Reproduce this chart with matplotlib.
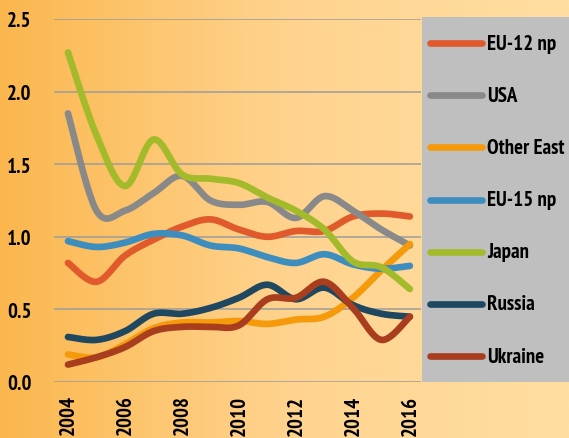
import numpy as np
import matplotlib
matplotlib.use("Agg")
import matplotlib.pyplot as plt
from matplotlib.colors import LinearSegmentedColormap
from matplotlib.patches import Rectangle
from matplotlib.lines import Line2D

plt.rcParams['font.family'] = ['PT Sans Narrow', 'Roboto Condensed', 'DejaVu Sans']

# data
years = list(range(2004, 2017))
series_names = ["EU-12 np", "USA", "Other East", "EU-15 np", "Japan", "Russia", "Ukraine"]
eu12 = [0.82, 0.69, 0.87, 0.98, 1.07, 1.12, 1.05, 1.00, 1.04, 1.04, 1.14, 1.16, 1.14]
usa = [1.85, 1.18, 1.18, 1.30, 1.42, 1.25, 1.22, 1.24, 1.13, 1.28, 1.18, 1.05, 0.94]
other_east = [0.19, 0.17, 0.26, 0.37, 0.41, 0.41, 0.42, 0.40, 0.43, 0.45, 0.58, 0.77, 0.95]
eu15 = [0.97, 0.93, 0.96, 1.02, 1.01, 0.94, 0.92, 0.86, 0.82, 0.88, 0.81, 0.78, 0.80]
japan = [2.27, 1.70, 1.35, 1.67, 1.43, 1.40, 1.37, 1.27, 1.18, 1.05, 0.83, 0.79, 0.64]
russia = [0.31, 0.29, 0.35, 0.47, 0.47, 0.51, 0.58, 0.67, 0.57, 0.65, 0.53, 0.47, 0.45]
ukraine = [0.12, 0.17, 0.24, 0.35, 0.38, 0.38, 0.39, 0.57, 0.58, 0.69, 0.51, 0.29, 0.45]
all_values = [eu12, usa, other_east, eu15, japan, russia, ukraine]
colors = ["#E05A2B", "#898989", "#F59A0A", "#3E8DBF", "#A3BB2B", "#1F4760", "#A83E1E"]


def smooth(x, y, n=24):
    # Excel-style smoothed line: cubic bezier through the points
    x = np.asarray(x, float)
    y = np.asarray(y, float)
    px = np.concatenate([[x[0]], x, [x[-1]]])
    py = np.concatenate([[y[0]], y, [y[-1]]])
    xs, ys = [], []
    t = np.linspace(0, 1, n)
    for i in range(1, len(x)):
        p0 = np.array([px[i], py[i]])
        p3 = np.array([px[i + 1], py[i + 1]])
        c1 = p0 + (np.array([px[i + 1], py[i + 1]]) - np.array([px[i - 1], py[i - 1]])) / 6
        c2 = p3 - (np.array([px[i + 2], py[i + 2]]) - np.array([px[i], py[i]])) / 6
        b = ((1 - t) ** 3)[:, None] * p0 + (3 * (1 - t) ** 2 * t)[:, None] * c1 \
            + (3 * (1 - t) * t ** 2)[:, None] * c2 + (t ** 3)[:, None] * p3
        xs.extend(b[:, 0])
        ys.extend(b[:, 1])
    return xs, ys


fig = plt.figure(figsize=(5.69, 4.39), dpi=100)

# background gradient
bg = fig.add_axes([0, 0, 1, 1], zorder=-10)
cmap = LinearSegmentedColormap.from_list("bg", ["#FBB74E", "#FFD38E", "#FFDEA2"])
bg.imshow(np.linspace(0, 1, 256)[None, :], aspect="auto", cmap=cmap, extent=[0, 1, 0, 1])
bg.axis("off")

ax = fig.add_axes([54 / 569, 56 / 439, 367 / 569, 363 / 439])
ax.set_facecolor("none")
ax.set_xlim(2003.51, 2016.39)
ax.set_ylim(0, 2.5)
ax.set_yticks([0, 0.5, 1.0, 1.5, 2.0, 2.5])
ax.set_yticklabels(["0.0", "0.5", "1.0", "1.5", "2.0", "2.5"])
ax.set_xticks(years[::2])
ax.set_xticklabels([str(y) for y in years[::2]], rotation=90)
ax.grid(axis="y", color="#9C9C9C", linewidth=1.1)
ax.set_axisbelow(True)
for s in ax.spines.values():
    s.set_visible(False)
ax.tick_params(axis="y", length=0, labelsize=15, pad=16)
ax.tick_params(axis="x", length=0, labelsize=15, pad=9)
for lab in ax.get_xticklabels() + ax.get_yticklabels():
    lab.set_fontweight("bold")

for vals, c in zip(all_values, colors):
    xs, ys = smooth(years, vals)
    ax.plot(xs, ys, color=c, linewidth=4.8, solid_capstyle="round")

# legend box on the right
fig.add_artist(Rectangle((422 / 569, 56 / 439), 147 / 569, 365 / 439,
                         transform=fig.transFigure, facecolor="#BFBFBF", edgecolor="none"))
for i, (name, c) in enumerate(zip(series_names, colors)):
    yy = 1 - (44 + i * 52.2) / 439
    fig.add_artist(Line2D([430 / 569, 482 / 569], [yy, yy], transform=fig.transFigure,
                          color=c, linewidth=4.8, solid_capstyle="round"))
    fig.text(487 / 569, yy, name, fontsize=15, fontweight="bold", va="center", ha="left")

fig.savefig("out.png", dpi=100)
